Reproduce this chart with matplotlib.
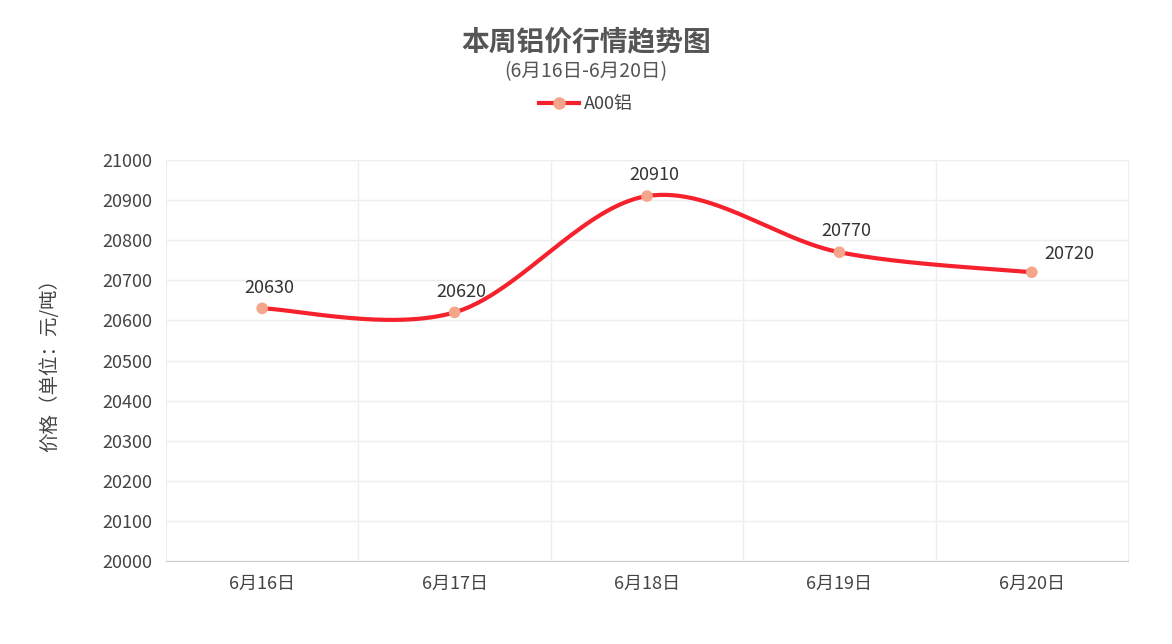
import matplotlib
matplotlib.use("Agg")
import matplotlib.pyplot as plt
import numpy as np

plt.rcParams['font.family'] = ['Noto Sans CJK SC', 'DejaVu Sans']

categories = ["6月16日", "6月17日", "6月18日", "6月19日", "6月20日"]
values = [20630, 20620, 20910, 20770, 20720]
series_name = "A00铝"

fig = plt.figure(figsize=(11.72, 6.44), dpi=100)
ax = fig.add_axes([166/1172, 83/644, 962/1172, 401/644])
n = len(categories)
x = np.arange(n, dtype=float)
y = np.array(values, dtype=float)

# Catmull-Rom smoothing
xs, ys = [], []
px = np.concatenate([[x[0]], x, [x[-1]]])
py = np.concatenate([[y[0]], y, [y[-1]]])
for i in range(1, n):
    p0, p1, p2, p3 = [np.array([px[j], py[j]]) for j in (i-1, i, i+1, i+2)]
    t = np.linspace(0, 1, 60)[:, None]
    c1 = p1 + (p2 - p0) / 6
    c2 = p2 - (p3 - p1) / 6
    pts = (1-t)**3*p1 + 3*(1-t)**2*t*c1 + 3*(1-t)*t**2*c2 + t**3*p2
    xs.extend(pts[:, 0]); ys.extend(pts[:, 1])

ax.plot(xs, ys, color='#f5222d', lw=3, zorder=3)
ax.scatter(x, y, s=70, color='#f4a58a', zorder=4, edgecolor='none')
for i, (xi, yi) in enumerate(zip(x, y)):
    off = (27, 13) if i == n-1 else (5, 15)
    ax.annotate(f"{int(yi)}", (xi, yi), xytext=off, textcoords='offset points',
                ha='center', va='center', fontsize=13, color='#333')

ax.set_xlim(-0.5, n-0.5)
ax.set_ylim(20000, 21000)
ax.set_yticks(np.arange(20000, 21001, 100))
ax.set_xticks(x)
ax.set_xticklabels(categories)
ax.set_xticks(np.arange(0.5, n-0.5, 1), minor=True)
ax.grid(True, which='major', axis='y', color='#eeeeee', lw=1)
ax.grid(True, which='minor', axis='x', color='#eeeeee', lw=1)
ax.tick_params(axis='both', which='both', length=0, labelsize=13, colors='#444', pad=10)
for s in ['top', 'right', 'left']:
    ax.spines[s].set_color('#eeeeee')
ax.spines['bottom'].set_color('#cccccc')
ax.set_axisbelow(True)
ax.set_ylabel("价格（单位：元/吨）", fontsize=14, color='#444', labelpad=30)

fig.text(0.5, 1-42/644, "本周铝价行情趋势图", ha='center', va='center', fontsize=20, fontweight='bold', color='#555')
fig.text(0.5, 1-72/644, "(6月16日-6月20日)", ha='center', va='center', fontsize=14, color='#555')
from matplotlib.lines import Line2D
h = Line2D([0], [0], color='#f5222d', lw=3, marker='o', markersize=8, markerfacecolor='#f4a58a', markeredgecolor='#f4a58a')
fig.legend([h], [series_name], loc='center', bbox_to_anchor=(0.5, 1-104/644), frameon=False, fontsize=13,
           handlelength=2.2, handletextpad=0.3, labelcolor='#444')
fig.savefig("out.png", dpi=100)
